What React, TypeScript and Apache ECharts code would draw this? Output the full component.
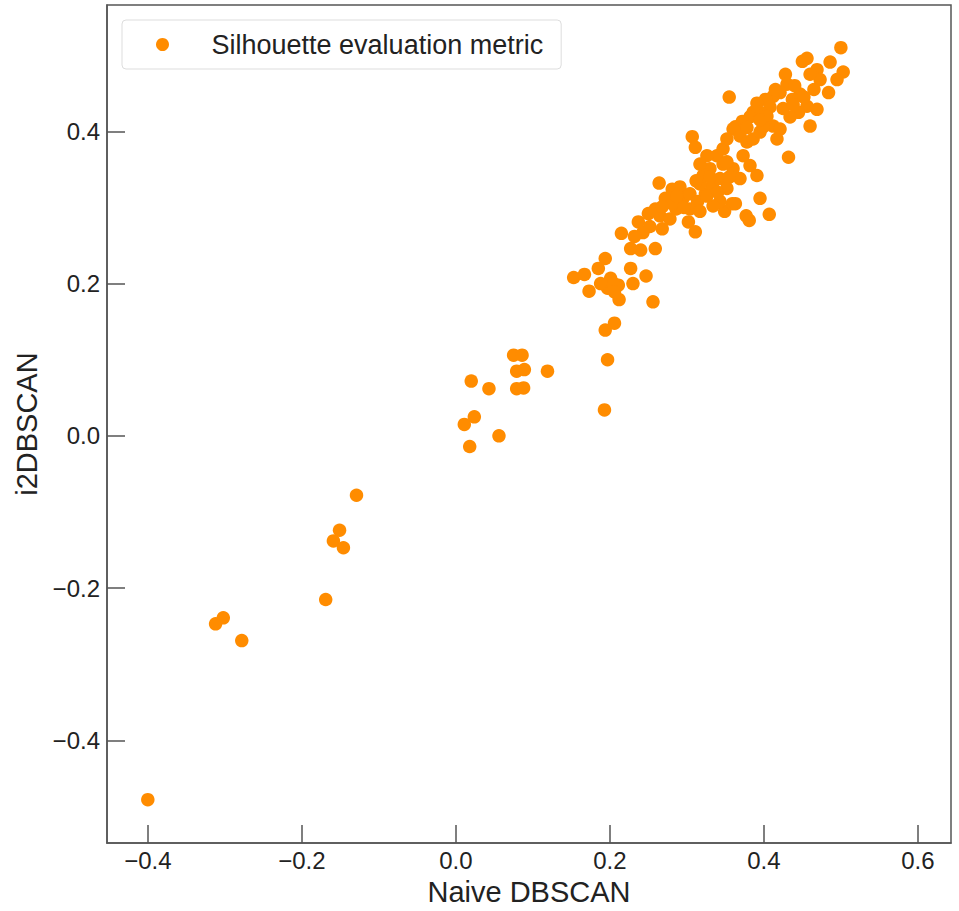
import React, { useEffect, useRef } from "react";
import * as echarts from "echarts";

// Naive DBSCAN (x) vs i2DBSCAN (y) silhouette values
const naiveDBSCAN: number[] = [
  -0.400, -0.312, -0.302, -0.278, -0.169, -0.159, -0.151, -0.146, -0.129,
  0.011, 0.020, 0.024, 0.018, 0.043, 0.056, 0.075, 0.086, 0.079, 0.089, 0.079, 0.088, 0.119,
  0.193, 0.197, 0.194, 0.206, 0.256,
  0.153, 0.167, 0.173, 0.185, 0.194, 0.197, 0.201, 0.211, 0.212, 0.227, 0.230, 0.247,
  0.215, 0.227, 0.240, 0.259, 0.237, 0.243, 0.264, 0.302, 0.311, 0.349, 0.359, 0.377,
  0.381, 0.395, 0.407, 0.432, 0.205, 0.188, 0.206,
  0.272, 0.281, 0.291, 0.295, 0.304, 0.314, 0.324, 0.333, 0.343, 0.343, 0.334, 0.326,
  0.317, 0.265, 0.259, 0.250, 0.252, 0.268, 0.278, 0.286, 0.304, 0.317, 0.363, 0.352,
  0.360, 0.347, 0.339, 0.326, 0.321, 0.307, 0.311, 0.330, 0.373, 0.382, 0.391, 0.369,
  0.352, 0.281, 0.268, 0.317,
  0.500, 0.456, 0.450, 0.486, 0.469, 0.503, 0.495, 0.484, 0.473, 0.460, 0.428, 0.430,
  0.421, 0.412, 0.355, 0.469, 0.460, 0.456, 0.445, 0.447, 0.437, 0.402, 0.391, 0.408,
  0.395, 0.386, 0.404, 0.412, 0.421, 0.434, 0.382, 0.372, 0.363, 0.360, 0.369, 0.378,
  0.386, 0.395, 0.399, 0.347, 0.352, 0.417,
  0.415, 0.440, 0.452, 0.465, 0.425, 0.438, 0.395, 0.378, 0.330, 0.340, 0.296, 0.312,
  0.355, 0.287, 0.232,
];

const i2DBSCAN: number[] = [
  -0.478, -0.247, -0.239, -0.269, -0.215, -0.138, -0.124, -0.147, -0.078,
  0.015, 0.072, 0.025, -0.014, 0.062, 0.000, 0.106, 0.106, 0.085, 0.087, 0.062, 0.063, 0.085,
  0.034, 0.100, 0.139, 0.148, 0.176,
  0.208, 0.212, 0.190, 0.220, 0.233, 0.194, 0.207, 0.198, 0.179, 0.220, 0.200, 0.210,
  0.266, 0.246, 0.244, 0.246, 0.281, 0.267, 0.332, 0.281, 0.268, 0.295, 0.305, 0.289,
  0.283, 0.312, 0.291, 0.366, 0.200, 0.200, 0.189,
  0.312, 0.324, 0.327, 0.312, 0.318, 0.308, 0.318, 0.329, 0.338, 0.308, 0.302, 0.315,
  0.331, 0.289, 0.298, 0.292, 0.275, 0.272, 0.285, 0.298, 0.298, 0.295, 0.305, 0.325,
  0.351, 0.357, 0.368, 0.368, 0.342, 0.393, 0.379, 0.351, 0.368, 0.355, 0.342, 0.338,
  0.360, 0.305, 0.301, 0.357,
  0.510, 0.496, 0.492, 0.491, 0.481, 0.478, 0.468, 0.451, 0.468, 0.475, 0.475, 0.462,
  0.451, 0.446, 0.445, 0.429, 0.407, 0.433, 0.425, 0.449, 0.442, 0.442, 0.437, 0.432,
  0.425, 0.425, 0.420, 0.407, 0.403, 0.419, 0.419, 0.413, 0.406, 0.403, 0.394, 0.386,
  0.390, 0.399, 0.406, 0.377, 0.390, 0.390,
  0.455, 0.460, 0.445, 0.455, 0.430, 0.435, 0.415, 0.405, 0.340, 0.320, 0.300, 0.335,
  0.340, 0.315, 0.262,
];

const xTicks: number[] = [-0.4, -0.2, 0.0, 0.2, 0.4, 0.6];
const yTicks: number[] = [-0.4, -0.2, 0.0, 0.2, 0.4];

const seriesName = "Silhouette evaluation metric";
const xName = "Naive DBSCAN";
const yName = "i2DBSCAN";

const FONT = "'Liberation Sans', Arial, Helvetica, sans-serif";
const fmt = (v: number) =>
  v < -1e-9 ? "\u2212" + Math.abs(v).toFixed(1) : Math.abs(v).toFixed(1);

export default function App() {
  const ref = useRef<HTMLDivElement>(null);
  useEffect(() => {
    if (!ref.current) return;
    const chart = echarts.init(ref.current, undefined, { renderer: "svg" });
    const data = naiveDBSCAN.map((x, i) => [x, i2DBSCAN[i]]);
    chart.setOption({
      animation: false,
      backgroundColor: "#ffffff",
      textStyle: { fontFamily: FONT },
      grid: {
        left: 107,
        right: 8,
        top: 5,
        bottom: 63,
        show: true,
        borderColor: "#555555",
        borderWidth: 1.5,
        backgroundColor: "transparent",
      },
      legend: {
        left: 122,
        top: 20,
        orient: "horizontal",
        padding: [11, 18, 11, 34],
        itemWidth: 26,
        itemHeight: 13,
        borderColor: "#dddddd",
        borderWidth: 1,
        borderRadius: 4,
        backgroundColor: "rgba(255,255,255,0.8)",
        data: [{ name: seriesName, icon: "circle" }],
        textStyle: {
          fontFamily: FONT,
          fontSize: 27,
          color: "#222222",
          padding: [0, 0, 0, 31],
        },
      },
      xAxis: {
        type: "value",
        min: -0.453,
        max: 0.643,
        name: xName,
        nameLocation: "middle",
        nameGap: 32,
        nameTextStyle: { fontFamily: FONT, fontSize: 29, color: "#222222" },
        axisLine: { show: true, onZero: false, lineStyle: { color: "#555555", width: 1.5 } },
        axisTick: {
          show: true,
          inside: true,
          length: 18,
          customValues: xTicks,
          lineStyle: { color: "#555555", width: 1.5 },
        },
        axisLabel: {
          show: true,
          customValues: xTicks,
          formatter: fmt,
          fontFamily: FONT,
          fontSize: 24,
          color: "#222222",
          margin: 5,
        },
        splitLine: { show: false },
      },
      yAxis: {
        type: "value",
        min: -0.535,
        max: 0.566,
        name: yName,
        nameLocation: "middle",
        nameGap: 66,
        nameTextStyle: { fontFamily: FONT, fontSize: 29, color: "#222222" },
        axisLine: { show: true, onZero: false, lineStyle: { color: "#555555", width: 1.5 } },
        axisTick: {
          show: true,
          inside: true,
          length: 18,
          customValues: yTicks,
          lineStyle: { color: "#555555", width: 1.5 },
        },
        axisLabel: {
          show: true,
          customValues: yTicks,
          formatter: fmt,
          fontFamily: FONT,
          fontSize: 24,
          color: "#222222",
          margin: 7,
        },
        splitLine: { show: false },
      },
      series: [
        {
          name: seriesName,
          type: "scatter",
          data,
          symbol: "circle",
          symbolSize: 13.5,
          itemStyle: { color: "#ff8c00", opacity: 1 },
        },
      ],
    });
    return () => chart.dispose();
  }, []);
  return (
    <div
      ref={ref}
      style={{ position: "fixed", left: 0, top: 0, width: 959, height: 911, background: "#fff" }}
    />
  );
}
